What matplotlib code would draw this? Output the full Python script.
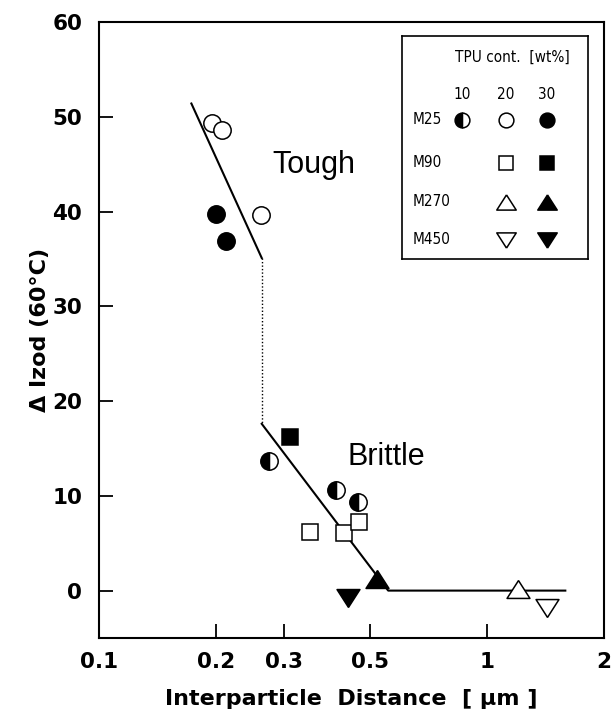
import matplotlib
matplotlib.use("Agg")
import matplotlib.pyplot as plt

plt.rcParams['font.family'] = ['Liberation Sans', 'DejaVu Sans']

# data
m25_10_x = [0.274, 0.407, 0.464]
m25_10_y = [13.7, 10.6, 9.3]
m25_20_x = [0.195, 0.207, 0.262]
m25_20_y = [49.3, 48.6, 39.6]
m25_30_x = [0.200, 0.213]
m25_30_y = [39.7, 36.9]
m90_20_x = [0.350, 0.429, 0.468]
m90_20_y = [6.2, 6.1, 7.2]
m90_30_x = [0.311]
m90_30_y = [16.2]
m270_20_x = [1.20]
m270_20_y = [0.2]
m270_30_x = [0.519]
m270_30_y = [1.25]
m450_20_x = [1.425]
m450_20_y = [-1.85]
m450_30_x = [0.437]
m450_30_y = [-0.8]

tough_x = [0.173, 0.2626]
tough_y = [51.4, 35.1]
gap_x = [0.2626, 0.2626]
gap_y = [35.1, 17.6]
brittle_x = [0.2626, 0.556, 1.59]
brittle_y = [17.6, 0.0, 0.0]

xticks = [0.1, 0.2, 0.3, 0.5, 1, 2]
xticklabels = ['0.1', '0.2', '0.3', '0.5', '1', '2']
yticks = [0, 10, 20, 30, 40, 50, 60]

up_tri = [(0, 0.78), (-1, -0.78), (1, -0.78), (0, 0.78)]
dn_tri = [(0, -0.78), (-1, 0.78), (1, 0.78), (0, -0.78)]

styles = {
    'half': dict(marker='o', ms=12.5, fillstyle='left', mfc='black', mfcalt='white', mec='black', mew=1.1),
    'oc': dict(marker='o', ms=12.5, mfc='white', mec='black', mew=1.1),
    'fc': dict(marker='o', ms=12.5, mfc='black', mec='black', mew=1.1),
    'os': dict(marker='s', ms=11.5, mfc='white', mec='black', mew=1.1),
    'fs': dict(marker='s', ms=11.5, mfc='black', mec='black', mew=1.1),
    'ot': dict(marker=up_tri, ms=16.5, mfc='white', mec='black', mew=1.1),
    'ft': dict(marker=up_tri, ms=16.5, mfc='black', mec='black', mew=1.1),
    'od': dict(marker=dn_tri, ms=16.5, mfc='white', mec='black', mew=1.1),
    'fd': dict(marker=dn_tri, ms=16.5, mfc='black', mec='black', mew=1.1),
}

series = [
    (m25_10_x, m25_10_y, 'half'), (m25_20_x, m25_20_y, 'oc'), (m25_30_x, m25_30_y, 'fc'),
    (m90_20_x, m90_20_y, 'os'), (m90_30_x, m90_30_y, 'fs'),
    (m270_20_x, m270_20_y, 'ot'), (m270_30_x, m270_30_y, 'ft'),
    (m450_20_x, m450_20_y, 'od'), (m450_30_x, m450_30_y, 'fd'),
]

fig = plt.figure(figsize=(6.14, 7.17), dpi=100)
ax = fig.add_axes([0.1612, 0.1102, 0.8225, 0.8591])

ax.plot(tough_x, tough_y, color='black', lw=1.5, zorder=2)
ax.plot(gap_x, gap_y, color='black', lw=1.0, ls=(0, (1, 1.5)), zorder=2)
ax.plot(brittle_x, brittle_y, color='black', lw=1.5, zorder=2)

for xs, ys, st in series:
    ax.plot(xs, ys, ls='none', zorder=3, **styles[st])

ax.set_xscale('log')
ax.set_xlim(0.1, 2)
ax.set_ylim(-5, 60)
ax.set_xticks(xticks)
ax.set_xticklabels(xticklabels)
ax.minorticks_off()
ax.set_yticks(yticks)
ax.tick_params(axis='both', direction='in', length=10, width=1.3, labelsize=15.5)
ax.tick_params(axis='x', pad=10)
ax.tick_params(axis='y', pad=12)
for lab in ax.get_xticklabels() + ax.get_yticklabels():
    lab.set_fontweight('bold')
    lab.set_fontfamily('DejaVu Sans')
for sp in ax.spines.values():
    sp.set_linewidth(1.5)

ax.text(0.358, 44.9, 'Tough', fontsize=22, ha='center', va='center')
ax.text(0.549, 14.1, 'Brittle', fontsize=22, ha='center', va='center')

ax.set_xlabel('Interparticle  Distance  [ \u03bcm ]', family='DejaVu Sans',
              fontsize=16, fontweight='bold', labelpad=12)
ax.set_ylabel('\u0394 Izod (60\u00b0C)', family='DejaVu Sans', fontsize=16,
              fontweight='bold', labelpad=2)

# legend box
lg = fig.add_axes([0.6547, 0.6388, 0.3029, 0.311])
lg.set_xlim(0, 186)
lg.set_ylim(223, 0)
lg.set_xticks([])
lg.set_yticks([])
for sp in lg.spines.values():
    sp.set_linewidth(1.2)

col_x = [60, 104, 145]
col_lab = ['10', '20', '30']
row_y = [84, 127, 166, 204]
row_lab = ['M25', 'M90', 'M270', 'M450']
row_marks = [['half', 'oc', 'fc'], [None, 'os', 'fs'], [None, 'ot', 'ft'], [None, 'od', 'fd']]

leg_font = dict(family='DejaVu Sans', fontstretch='condensed', fontsize=11)
lg.text(110, 21, 'TPU cont.  [wt%]', ha='center', va='center', **leg_font)
for cx, cl in zip(col_x, col_lab):
    lg.text(cx, 59, cl, ha='center', va='center', **leg_font)
for ry, rl, marks in zip(row_y, row_lab, row_marks):
    lg.text(11, ry, rl, ha='left', va='center', **leg_font)
    for cx, st in zip(col_x, marks):
        if st is None:
            continue
        kw = dict(styles[st])
        kw['ms'] = kw['ms'] * 0.85
        lg.plot([cx], [ry], ls='none', **kw)

fig.savefig('out.png', dpi=100)
